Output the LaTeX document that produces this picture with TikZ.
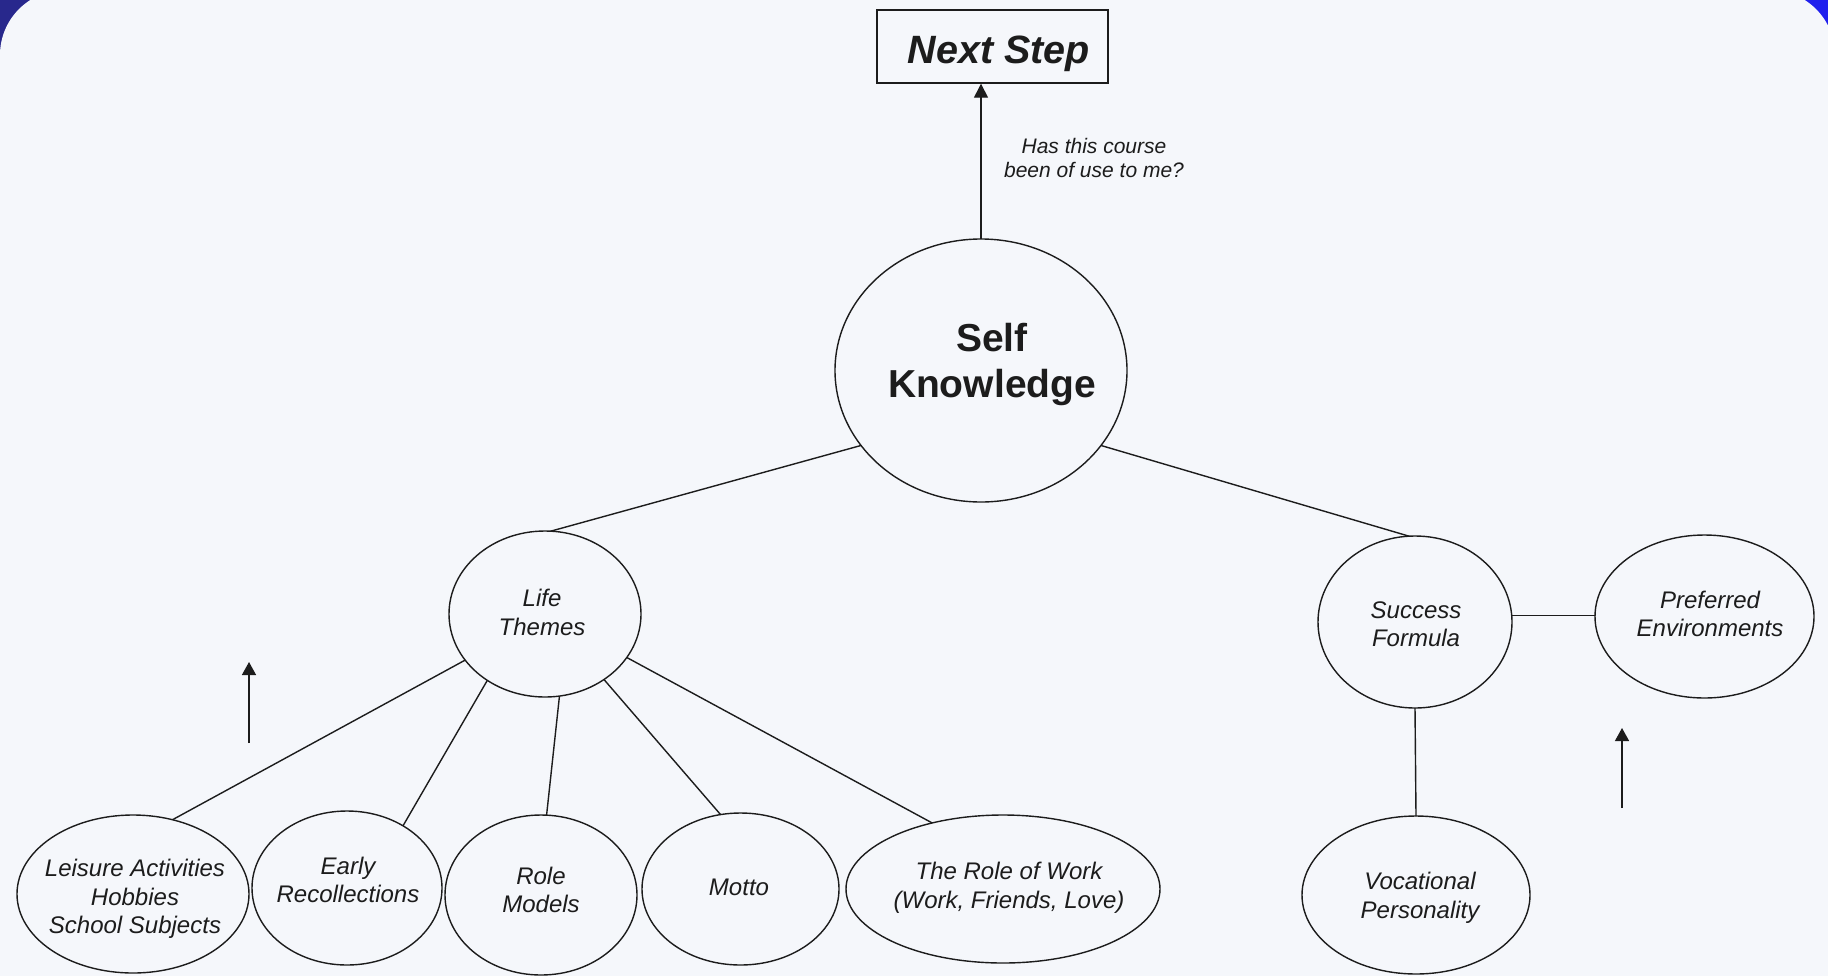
\documentclass[tikz,border=0pt]{standalone}
\usepackage{fontspec}
\setmainfont{Liberation Sans}
\usetikzlibrary{shapes.geometric,arrows.meta}
\definecolor{navybg}{RGB}{40,40,140}
\definecolor{bluebg}{RGB}{32,32,238}
\definecolor{panel}{RGB}{245,247,251}
\definecolor{ink}{RGB}{28,28,28}
\tikzset{
  oval/.style={ellipse, draw=ink, line width=1.4pt, inner sep=0pt, outer sep=0pt},
  txt/.style={align=center, font=\fontsize{24}{28.5}\selectfont\itshape, text=ink, inner sep=0pt},
  link/.style={draw=ink, line width=1.4pt},
  arr/.style={link, -{Triangle[width=14pt,length=14pt]}},
  arrsmall/.style={link, -{Triangle[width=14pt,length=13pt]}},
}
\begin{document}
\begin{tikzpicture}[x=1pt,y=-1pt]
\useasboundingbox (0,0) rectangle (1828,975);
\shade[left color=navybg, right color=bluebg] (0,0) rectangle (1828,975);
\fill[panel, rounded corners=65pt] (0,-10) rectangle (1835,1040);

% Next Step
\node[draw=ink, line width=1.4pt, minimum width=231pt, minimum height=73pt, inner sep=0pt] (ns) at (992.5,46.5) {};
\node[anchor=base, inner sep=0pt, text=ink, font=\fontsize{39.5}{44}\selectfont\bfseries\itshape] (nst) at (999,63) {Next Step};
\node[txt, font=\fontsize{21}{24}\selectfont\itshape] (q) at (1094,157.5) {Has this course\\been of use to me?};

% Self Knowledge
\node[oval, minimum width=292pt, minimum height=263pt] (sk) at (981,370.5) {};
\node[txt, font=\fontsize{39}{46}\selectfont\bfseries] (skt) at (992,364) {Self\\Knowledge};

% second level
\node[oval, minimum width=192pt, minimum height=166pt] (lt) at (545,614) {};
\node[txt] (ltt) at (542,612.5) {Life\\Themes};
\node[oval, minimum width=194pt, minimum height=172pt] (sf) at (1415,622) {};
\node[txt] (sft) at (1416,624) {Success\\Formula};
\node[oval, minimum width=219pt, minimum height=163pt] (pe) at (1704.5,616.5) {};
\node[txt] (pet) at (1710,614) {Preferred\\Environments};

% bottom row
\node[oval, minimum width=232pt, minimum height=158pt] (lei) at (133,894) {};
\node[txt] (leit) at (135,899) {Leisure Activities\\Hobbies\\School Subjects};
\node[oval, minimum width=190pt, minimum height=154pt] (ear) at (347,888) {};
\node[txt] (eart) at (348,880) {Early\\Recollections};
\node[oval, minimum width=192pt, minimum height=160pt] (rol) at (541,895) {};
\node[txt] (rolt) at (541,890) {Role\\Models};
\node[oval, minimum width=197pt, minimum height=152pt] (mot) at (740.5,889) {};
\node[txt, anchor=base] (mott) at (739,895) {Motto};
\node[oval, minimum width=314pt, minimum height=148pt] (row) at (1003,889) {};
\node[txt] (rowt) at (1009,888) {The Role of Work\\(Work, Friends, Love)};
\node[oval, minimum width=228pt, minimum height=158pt] (vp) at (1416,895) {};
\node[txt] (vpt) at (1420,898) {Vocational\\Personality};

% connectors
\draw[arr] (sk.north) -- (sk.north |- ns.south);
\draw[link] (sk.212.9) -- (lt.86.6);
\draw[link] (sk.-32.1) -- (sf.94.6);
\draw[link] (lt.210.7) -- (lei.62.2);
\draw[link] (lt.229.5) -- (ear.48.4);
\draw[link] (lt.-80) -- (rol.86.4);
\draw[link] (lt.-48.5) -- (mot.105.3);
\draw[link] (lt.-28.9) -- (row.137.5);
\draw[link] (sf.4.7) -- (sf.4.7 -| pe.west);
\draw[link] (sf.south) -- (vp.north);

% free arrows
\coordinate (la0) at (249,743);
\coordinate (la1) at (249,662);
\draw[arrsmall] (la0) -- (la1);
\coordinate (ra0) at (1622,808);
\coordinate (ra1) at (1622,728);
\draw[arrsmall] (ra0) -- (ra1);
\end{tikzpicture}
\end{document}
